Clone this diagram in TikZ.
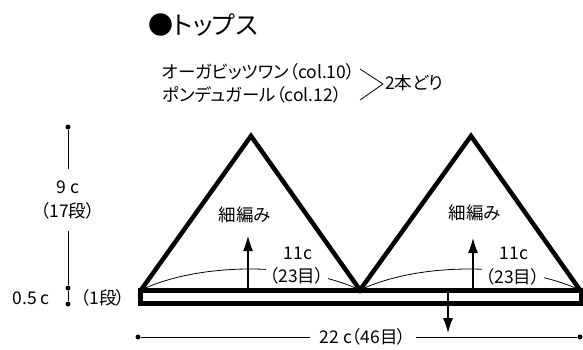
\documentclass[tikz,border=0pt]{standalone}
\usepackage{fontspec}
\setmainfont[RawFeature=+palt]{Noto Sans CJK JP}
\usepackage{tikz}
\usetikzlibrary{arrows.meta}
\tikzstyle{lbl}=[inner sep=1pt,font=\fontsize{17.5}{24}\selectfont]
\tikzstyle{dot}=[circle,fill=black,minimum size=5pt,inner sep=0pt]
\tikzstyle{part}=[draw,line width=4.5pt,line join=miter]
\tikzstyle{fine}=[draw,line width=0.8pt]
\tikzstyle{arr}=[draw,line width=1.1pt,-{Latex[length=15pt,width=10pt]}]

\begin{document}
\begin{tikzpicture}[x=1pt,y=-1pt]
      \useasboundingbox (0,0) rectangle (583,349);
      \node[anchor=west,font=\fontsize{25}{28}\selectfont] (title) at (145,25) {●トップス};
      \node[lbl,anchor=west] (yarnA) at (161,72) {オーガビッツワン（col.10）};
      \node[lbl,anchor=west] (yarnB) at (161,95) {ポンデュガール（col.12）};
      \coordinate (brA) at (360,69);
      \coordinate (brV) at (383,84);
      \coordinate (brB) at (360,100);
      \draw[fine] (brA) -- (brV) -- (brB);
      \node[lbl,anchor=west] (twin) at (384,83) {2本どり};
      % pieces
      \coordinate (lA) at (141,290);
      \coordinate (lT) at (251,136);
      \coordinate (mid) at (360,290);
      \coordinate (rT) at (471,136);
      \coordinate (rB) at (580,290);
      \draw[part] (lA) -- (lT) -- (mid) -- (rT) -- (rB);
      \coordinate (bandA) at (140,290.5);
      \coordinate (bandB) at (581,303.5);
      \draw[line width=5pt] (bandA) rectangle (bandB);
      \node[lbl] (scL) at (245,215) {細編み};
      \node[lbl] (scR) at (475,213) {細編み};
      \draw[fine] (lA) .. controls (200,262) and (300,262) .. (mid);
      \draw[fine] (mid) .. controls (419,262) and (519,262) .. (rB);
      \node[lbl] (wL) at (298,253) {11c};
      \node[lbl,fill=white,inner xsep=4pt] (sL) at (297,276) {（23目）};
      \node[lbl] (wR) at (514,253) {11c};
      \node[lbl,fill=white,inner xsep=4pt] (sR) at (513,277) {（23目）};
      \coordinate (upLa) at (248,290);
      \coordinate (upLb) at (248,236);
      \coordinate (upRa) at (473,290);
      \coordinate (upRb) at (473,238);
      \coordinate (dnA) at (448,292);
      \coordinate (dnB) at (448,333);
      \draw[arr] (upLa) to (upLb);
      \draw[arr] (upRa) to (upRb);
      \draw[arr] (dnA) to (dnB);
      % sizes
      \node[dot] (hT) at (68,127) {};
      \node[dot] (hM) at (68,288) {};
      \node[dot] (hB) at (68,304) {};
      \draw[fine] (hT) -- (hM) -- (hB);
      \node[lbl,fill=white,align=center,inner ysep=12pt] (h9) at (68,200) {9 c\\（17段）};
      \node[lbl] (h05) at (31,298) {0.5 c};
      \node[lbl] (h1) at (103,298) {（1段）};
      \node[dot] (wA) at (138,337) {};
      \node[dot] (wB) at (580,337) {};
      \draw[fine] (wA) -- (wB);
      \node[lbl,fill=white,inner xsep=10pt] (w22) at (363,337) {22 c（46目）};
\end{tikzpicture}
\end{document}
